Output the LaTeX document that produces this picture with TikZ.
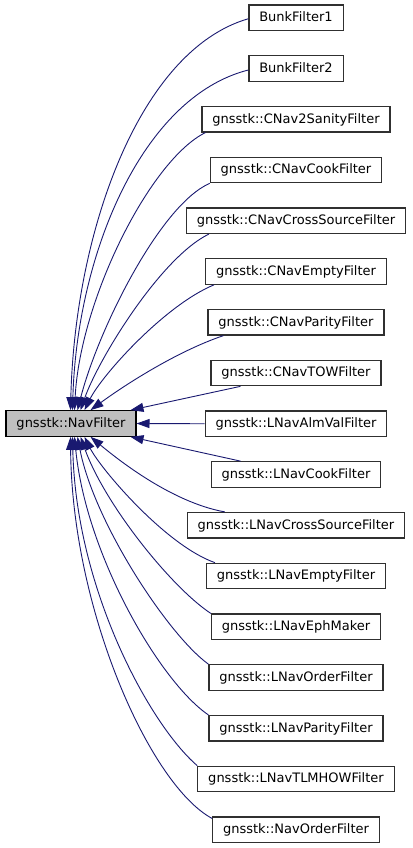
\documentclass[tikz,border=0pt]{standalone}
\usepackage{fontspec}
\setmainfont{DejaVu Sans}
\usetikzlibrary{arrows.meta}
\definecolor{edgecol}{HTML}{191970}
\definecolor{boxcol}{HTML}{303030}
\definecolor{rootfill}{HTML}{BFBFBF}
\begin{document}
\begin{tikzpicture}[x=1pt,y=-1pt,
  cls/.style={draw=boxcol, line width=1.2pt, fill=white, inner xsep=10.4pt, inner ysep=0pt,
    minimum height=25.5pt, text height=10.5pt, text depth=2.7pt,
    font=\fontsize{13}{15}\selectfont},
  root/.style={cls, draw=black, fill=rootfill},
  inh/.style={draw=edgecol, line width=0.9pt, -{Triangle[length=13pt,width=9pt]}}]
\useasboundingbox (0,0) rectangle (412,848);
\node[root] (nav) at (71,423.5) {gnsstk::NavFilter};
\node[cls] (n0) at (296,17.75) {BunkFilter1};
\node[cls] (n1) at (296,68.5) {BunkFilter2};
\node[cls] (n2) at (296,119.25) {gnsstk::CNav2SanityFilter};
\node[cls] (n3) at (296,170) {gnsstk::CNavCookFilter};
\node[cls] (n4) at (296,220.75) {gnsstk::CNavCrossSourceFilter};
\node[cls] (n5) at (296,271.5) {gnsstk::CNavEmptyFilter};
\node[cls] (n6) at (296,322.25) {gnsstk::CNavParityFilter};
\node[cls] (n7) at (296,373) {gnsstk::CNavTOWFilter};
\node[cls] (n8) at (296,423.75) {gnsstk::LNavAlmValFilter};
\node[cls] (n9) at (296,474.5) {gnsstk::LNavCookFilter};
\node[cls] (n10) at (296,525.25) {gnsstk::LNavCrossSourceFilter};
\node[cls] (n11) at (296,576) {gnsstk::LNavEmptyFilter};
\node[cls] (n12) at (296,626.75) {gnsstk::LNavEphMaker};
\node[cls] (n13) at (296,677.5) {gnsstk::LNavOrderFilter};
\node[cls] (n14) at (296,728.25) {gnsstk::LNavParityFilter};
\node[cls] (n15) at (296,779) {gnsstk::LNavTLMHOWFilter};
\node[cls] (n16) at (296,829.75) {gnsstk::NavOrderFilter};
\draw[inh] ([yshift=-1pt]n0.west) .. controls (140,50) and (75,230) .. ([xshift=65pt]nav.north west);
\draw[inh] ([yshift=-1.5pt]n1.west) .. controls (142,97) and (77,254) .. ([xshift=67pt]nav.north west);
\draw[inh] ([xshift=4pt]n2.south west) .. controls (150,160) and (80,300) .. ([xshift=69pt]nav.north west);
\draw[inh] (n3.south west) .. controls (160,205) and (98,330) .. ([xshift=72pt]nav.north west);
\draw[inh] ([xshift=23pt]n4.south west) .. controls (160,258) and (98,360) .. ([xshift=75pt]nav.north west);
\draw[inh] ([xshift=9pt]n5.south west) .. controls (165,305) and (102,375) .. ([xshift=79pt]nav.north west);
\draw[inh] ([xshift=16pt]n6.south west) .. controls (175,352) and (122,387) .. ([xshift=85pt]nav.north west);
\draw[inh] ([xshift=30pt]n7.south west) -- ([xshift=125pt]nav.north west);
\draw[inh] (n8.west) -- (nav.east);
\draw[inh] ([xshift=30pt]n9.north west) -- ([xshift=125pt]nav.south west);
\draw[inh] ([xshift=38pt]n10.north west) .. controls (170,502) and (115,457) .. ([xshift=85pt]nav.south west);
\draw[inh] ([xshift=9pt]n11.north west) .. controls (165,545) and (100,468) .. ([xshift=79pt]nav.south west);
\draw[inh] (n12.north west) .. controls (172,588) and (105,505) .. ([xshift=75pt]nav.south west);
\draw[inh] (n13.north west) .. controls (168,635) and (94,522) .. ([xshift=72pt]nav.south west);
\draw[inh] (n14.north west) .. controls (160,682) and (86,555) .. ([xshift=69pt]nav.south west);
\draw[inh] (n15.north west) .. controls (150,725) and (76,590) .. ([xshift=67pt]nav.south west);
\draw[inh] ([yshift=-2pt]n16.north west) .. controls (150,785) and (72,610) .. ([xshift=65pt]nav.south west);
\end{tikzpicture}
\end{document}
